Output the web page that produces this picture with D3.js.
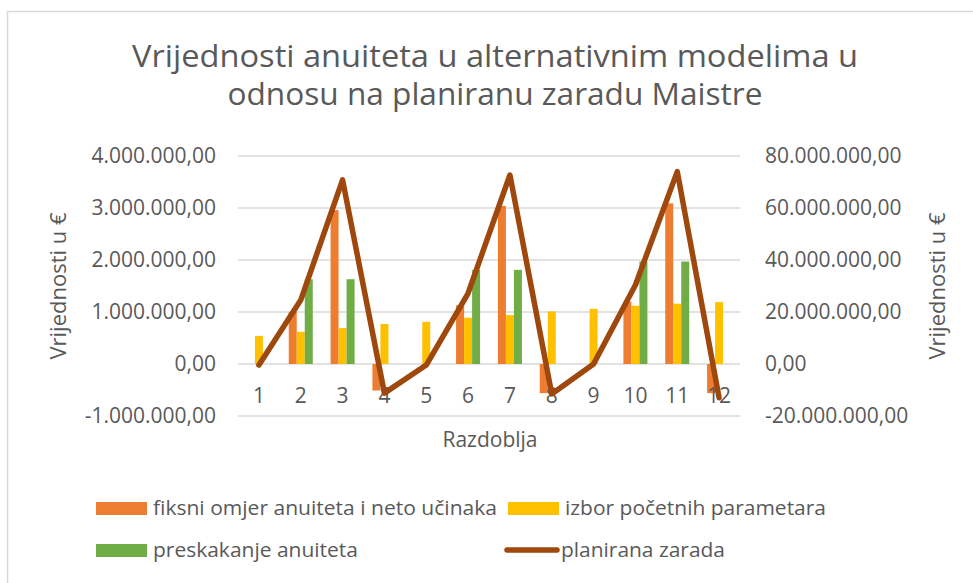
<!DOCTYPE html>
<html>
<head>
<meta charset="utf-8">
<script src="https://cdn.jsdelivr.net/npm/d3@7"></script>
<style>
  body { margin: 0; background: #fff; }
  text { font-family: "Open Sans", sans-serif; fill: #595959; }
</style>
</head>
<body>
<svg id="chart" width="973" height="583"></svg>
<script>
// data
var categories = ["1", "2", "3", "4", "5", "6", "7", "8", "9", "10", "11", "12"];
var fiksni = [0, 1000000, 2960000, -510000, 0, 1130000, 3040000, -560000, 0, 1200000, 3090000, -560000];
var izbor = [540000, 620000, 690000, 770000, 810000, 890000, 940000, 1010000, 1060000, 1120000, 1160000, 1190000];
var preskakanje = [0, 1630000, 1630000, 0, 0, 1810000, 1810000, 0, 0, 1970000, 1970000, 0];
var zarada = [-400000, 24600000, 70800000, -11200000, -400000, 27200000, 72700000, -11500000, 0, 30400000, 74000000, -13000000];
var leftTicks = [-1000000, 0, 1000000, 2000000, 3000000, 4000000];
var rightTicks = [-20000000, 0, 20000000, 40000000, 60000000, 80000000];
var seriesNames = ["fiksni omjer anuiteta i neto učinaka", "izbor početnih parametara", "preskakanje anuiteta", "planirana zarada"];
var titleLines = ["Vrijednosti anuiteta u alternativnim modelima u", "odnosu na planiranu zaradu Maistre"];

var colors = ["#ED7D31", "#FFC000", "#70AD47", "#9E480E"];

function drawChart() {
  var svg = d3.select("#chart");
  var locale = d3.formatLocale({ decimal: ",", thousands: ".", grouping: [3], currency: ["", "€"], minus: "-" });
  var fmt = locale.format(",.2f");

  // chart border
  svg.append("rect")
    .attr("x", 7.5).attr("y", 11.5)
    .attr("width", 1000).attr("height", 620)
    .attr("fill", "none")
    .attr("stroke", "#d9d9d9")
    .attr("stroke-width", 1.5);

  var plotLeft = 238, plotRight = 740, plotTop = 156, plotBottom = 416;

  var x0 = d3.scaleBand().domain(categories).range([plotLeft, plotRight]).paddingInner(0.426).paddingOuter(0.213);
  var x1 = d3.scaleBand().domain([0, 1, 2]).range([0, x0.bandwidth()]);
  var xc = function (c) { return x0(c) + x0.bandwidth() / 2; };
  var yL = d3.scaleLinear().domain([-1000000, 4000000]).range([plotBottom, plotTop]);
  var yR = d3.scaleLinear().domain([-20000000, 80000000]).range([plotBottom, plotTop]);

  // gridlines
  svg.append("g").selectAll("line")
    .data(leftTicks)
    .enter().append("line")
    .attr("x1", plotLeft).attr("x2", plotRight)
    .attr("y1", function (d) { return yL(d); })
    .attr("y2", function (d) { return yL(d); })
    .attr("stroke", "#d9d9d9")
    .attr("stroke-width", 1.5);

  // left axis labels
  var axL = svg.append("g")
    .attr("transform", "translate(" + (plotLeft - 22) + ",0)")
    .call(d3.axisLeft(yL).tickValues(leftTicks).tickFormat(fmt).tickSize(0).tickPadding(0));
  axL.select(".domain").remove();
  axL.selectAll("text").style("font-size", "21px").attr("fill", "#595959").attr("font-family", null);

  // right axis labels
  var axR = svg.append("g")
    .attr("transform", "translate(" + (plotRight + 25) + ",0)")
    .call(d3.axisRight(yR).tickValues(rightTicks).tickFormat(fmt).tickSize(0).tickPadding(0));
  axR.select(".domain").remove();
  axR.selectAll("text").style("font-size", "21px").attr("fill", "#595959");

  // bars
  [fiksni, izbor, preskakanje].forEach(function (vals, i) {
    svg.append("g").selectAll("rect")
      .data(vals)
      .enter().append("rect")
      .attr("x", function (d, j) { return x0(categories[j]) + x1(i); })
      .attr("width", x1.bandwidth())
      .attr("y", function (d) { return yL(Math.max(0, d)); })
      .attr("height", function (d) { return Math.abs(yL(d) - yL(0)); })
      .attr("fill", colors[i]);
  });

  // category labels
  svg.append("g").selectAll("text")
    .data(categories)
    .enter().append("text")
    .attr("x", function (d) { return xc(d); })
    .attr("y", 403)
    .attr("text-anchor", "middle")
    .style("font-size", "21px")
    .text(function (d) { return d; });

  // planned earnings line, right axis
  var line = d3.line()
    .x(function (d, j) { return xc(categories[j]); })
    .y(function (d) { return yR(d); });
  svg.append("path")
    .datum(zarada)
    .attr("d", line)
    .attr("fill", "none")
    .attr("stroke", colors[3])
    .attr("stroke-width", 5.5)
    .attr("stroke-linejoin", "round")
    .attr("stroke-linecap", "round");

  // title
  var titleWidths = [726, 535];
  svg.append("g").selectAll("text")
    .data(titleLines)
    .enter().append("text")
    .attr("x", 495)
    .attr("y", function (d, i) { return 67 + i * 38; })
    .attr("text-anchor", "middle")
    .attr("textLength", function (d, i) { return titleWidths[i]; })
    .attr("lengthAdjust", "spacingAndGlyphs")
    .style("font-size", "31px")
    .text(function (d) { return d; });

  // axis titles
  svg.append("text")
    .attr("transform", "translate(66,286) rotate(-90)")
    .attr("text-anchor", "middle")
    .style("font-size", "22px")
    .text("Vrijednosti u €");
  svg.append("text")
    .attr("transform", "translate(945,286) rotate(-90)")
    .attr("text-anchor", "middle")
    .style("font-size", "22px")
    .text("Vrijednosti u €");
  svg.append("text")
    .attr("x", 490).attr("y", 447)
    .attr("text-anchor", "middle")
    .style("font-size", "21px")
    .text("Razdoblja");

  // legend
  var legendItems = [
    { x: 96, y: 508, w: 344 },
    { x: 508, y: 508, w: 261 },
    { x: 96, y: 550, w: 205 },
    { x: 504, y: 550, w: 164 }
  ];
  legendItems.forEach(function (it, i) {
    var g = svg.append("g").attr("transform", "translate(" + it.x + "," + it.y + ")");
    if (i < 3) {
      g.append("rect").attr("x", 0).attr("y", -6).attr("width", 51).attr("height", 13).attr("fill", colors[i]);
    } else {
      g.append("line").attr("x1", 3).attr("x2", 53).attr("y1", 0).attr("y2", 0)
        .attr("stroke", colors[3]).attr("stroke-width", 5.5).attr("stroke-linecap", "round");
    }
    g.append("text")
      .attr("x", 57).attr("y", 7)
      .attr("textLength", it.w)
      .attr("lengthAdjust", "spacingAndGlyphs")
      .style("font-size", "20px")
      .text(seriesNames[i]);
  });
}

drawChart();
</script>
</body>
</html>
